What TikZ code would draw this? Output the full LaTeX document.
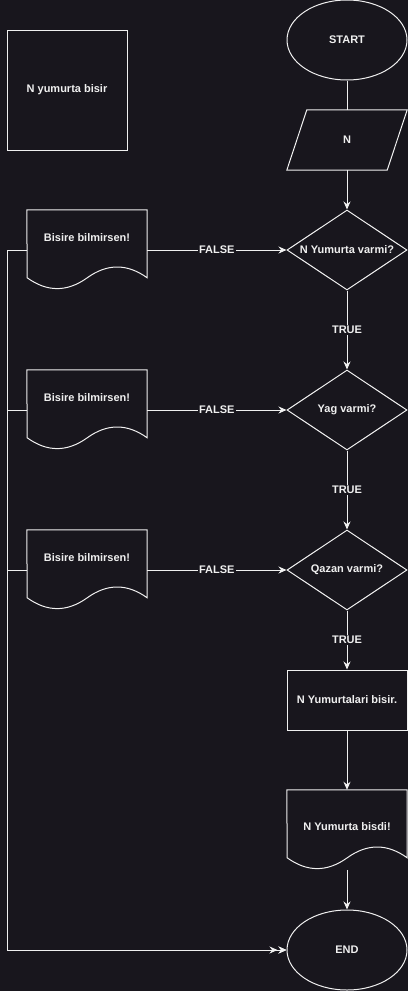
\documentclass[tikz,border=0pt]{standalone}
\usepackage{fontspec}
\setmainfont{Liberation Sans}
\usetikzlibrary{shapes.geometric,arrows.meta}

\definecolor{bgcol}{RGB}{24,22,29}
\definecolor{inkcol}{RGB}{240,240,240}

\tikzset{
  every node/.style={text=inkcol, font=\fontsize{11}{13}\selectfont\bfseries},
  shapeline/.style={draw=inkcol, line width=1pt},
  box/.style={shapeline, rectangle, minimum width=120pt, inner sep=0pt},
  docbox/.style={rectangle, minimum width=120pt, inner sep=0pt},
  terminal/.style={shapeline, ellipse, minimum width=120pt, minimum height=80pt, inner sep=0pt},
  decision/.style={shapeline, diamond, aspect=1.5, minimum width=120pt, minimum height=80pt, inner sep=0pt},
  arrow/.style={draw=inkcol, line width=1pt, -{Stealth[length=8pt,width=7pt]}},
  edgelabel/.style={fill=bgcol, inner sep=1pt}
}

% document shape with a wavy bottom, drawn round a node
\newcommand{\docwave}[1]{%
  \draw[shapeline] (#1.north west) -- (#1.north east) -- ++(0,68)
    .. controls +(-20,-14.4) and +(20,-14.4) .. ++(-60,0)
    .. controls +(-20,14.4) and +(20,14.4) .. ++(-60,0) -- cycle;}

\begin{document}
\begin{tikzpicture}[x=1pt,y=-1pt]

\path[use as bounding box, fill=bgcol] (0,0) rectangle (408,991);

% Draw the note and the main column
\node[box, minimum height=120pt] (note) at (67,90) {N yumurta bisir};
\node[terminal] (start) at (347,40) {START};
\node[docbox, minimum height=60pt] (input) at (347,140) {N};
\draw[shapeline] ([xshift=20pt]input.north west) -- (input.north east)
  -- ([xshift=-20pt]input.south east) -- (input.south west) -- cycle;
\node[decision] (egg) at (347,250) {N Yumurta varmi?};
\node[decision] (oil) at (347,410) {Yag varmi?};
\node[decision] (pot) at (347,570) {Qazan varmi?};
\node[box, minimum height=60pt] (boil) at (347,700) {N Yumurtalari bisir.};
\node[docbox, minimum height=74pt] (done) at (347,827) {N Yumurta bisdi!};
\docwave{done}
\node[terminal] (stop) at (347,950) {END};

% Draw the arrows down the column
\draw[shapeline] (start) -- (input);
\draw[arrow] (input) -- (egg);
\draw[arrow] (egg) -- node[edgelabel] {TRUE} (oil);
\draw[arrow] (oil) -- node[edgelabel] {TRUE} (pot);
\draw[arrow] (pot) -- node[edgelabel] {TRUE} (boil);
\draw[arrow] (boil) -- (done);
\draw[arrow] (done.north) ++(0,80) -- (stop);

% Draw the false branches
\foreach \y/\d/\s in {250/egg/0,410/oil/0,570/pot/9} {
  \node[docbox, minimum height=56pt] (no\d) at (87,{\y-12}) {Bisire bilmirsen!};
  \docwave{no\d}
  \draw[arrow] (no\d.east |- \d) -- node[edgelabel] {FALSE} (\d);
  \draw[arrow, shorten >=\s pt] (no\d.west |- \d) -- ++(-19,0) |- (stop);
}

\end{tikzpicture}
\end{document}
